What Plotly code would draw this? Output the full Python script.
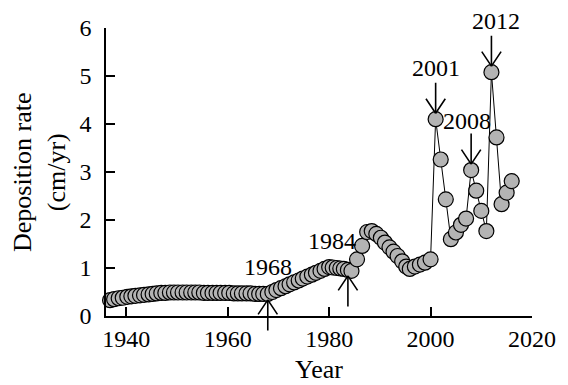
import plotly.graph_objects as go

# Dated sediment core: year of each layer and its deposition rate (cm/yr)
year = [
    1936.8, 1937.6, 1938.5, 1939.3, 1940.2, 1941.0, 1941.8, 1942.7, 1943.5, 1944.4,
    1945.2, 1946.0, 1946.9, 1947.7, 1948.6, 1949.4, 1950.2, 1951.1, 1951.9, 1952.8,
    1953.6, 1954.4, 1955.3, 1956.1, 1957.0, 1957.8, 1958.6, 1959.5, 1960.3, 1961.2,
    1962.0, 1962.8, 1963.7, 1964.5, 1965.4, 1966.2, 1967.0, 1967.9,
    1968.8, 1969.6, 1970.5, 1971.4, 1972.2, 1973.1, 1974.0, 1974.8, 1975.7, 1976.6,
    1977.4, 1978.3, 1979.1, 1980.0,
    1980.7, 1981.5, 1982.2, 1982.9, 1983.7, 1984.4,
    1985.5, 1986.5, 1987.5, 1988.4, 1989.3, 1990.2, 1991.0, 1991.9, 1992.7, 1993.5,
    1994.4, 1995.2, 1995.9, 1996.9, 1997.9, 1998.9, 2000.0,
    2001, 2002, 2003, 2004, 2005, 2006, 2007, 2008, 2009, 2010, 2011, 2012, 2013,
    2014, 2015, 2016,
]
rate = [
    0.33, 0.35, 0.37, 0.38, 0.40, 0.41, 0.42, 0.43, 0.44, 0.45,
    0.46, 0.47, 0.48, 0.48, 0.49, 0.49, 0.49, 0.49, 0.49, 0.49,
    0.49, 0.49, 0.48, 0.48, 0.48, 0.48, 0.48, 0.48, 0.48, 0.47,
    0.47, 0.47, 0.47, 0.47, 0.46, 0.46, 0.46, 0.46,
    0.50, 0.54, 0.58, 0.62, 0.66, 0.70, 0.74, 0.78, 0.82, 0.86,
    0.90, 0.94, 0.98, 1.02,
    1.01, 1.00, 0.99, 0.98, 0.96, 0.94,
    1.18, 1.46, 1.75, 1.77, 1.71, 1.63, 1.53, 1.43, 1.34, 1.25,
    1.14, 1.03, 0.98, 1.03, 1.07, 1.11, 1.18,
    4.10, 3.26, 2.43, 1.60, 1.74, 1.90, 2.03, 3.04, 2.61, 2.19, 1.77, 5.08, 3.72,
    2.33, 2.57, 2.81,
]

# Marked events and the side their arrow comes from
event_year = [1968, 1984, 2001, 2008, 2012]
event_label = ["1968", "1984", "2001", "2008", "2012"]
event_side = ["below", "below", "above", "above", "above"]

x_ticks = [1940, 1960, 1980, 2000, 2020]
y_ticks = [0, 1, 2, 3, 4, 5, 6]

FONT = "Liberation Serif, Times New Roman, serif"
BLACK = "#000000"

fig = go.Figure(
    go.Scatter(
        x=year,
        y=rate,
        mode="lines+markers",
        line=dict(color=BLACK, width=1),
        marker=dict(size=15, color="#b4b4b4", line=dict(color=BLACK, width=1.2)),
        cliponaxis=False,
        showlegend=False,
    )
)

# label offsets (pixels) for each event text relative to its point
label_shift = {
    "1968": (0, 27),
    "1984": (-16, 29),
    "2001": (0, 51),
    "2008": (-4, 49),
    "2012": (5, 51),
}

GAP = 6       # distance from point centre to arrow tip
STEM = 31     # stem length beyond the tip
BARB_X = 10
BARB_Y = 15

for yr, lab, side in zip(event_year, event_label, event_side):
    i = min(range(len(year)), key=lambda k: abs(year[k] - yr))
    px, py = year[i], rate[i]
    s = 1 if side == "above" else -1
    common = dict(
        x=px, y=py, xref="x", yref="y", text="", showarrow=True,
        arrowhead=0, arrowwidth=1.6, arrowcolor=BLACK, standoff=0,
        startstandoff=0, yshift=s * GAP, font=dict(size=1), borderpad=0,
    )
    # stem
    fig.add_annotation(ax=0, ay=-s * STEM, **common)
    # open arrow head
    fig.add_annotation(ax=-BARB_X, ay=-s * BARB_Y, **common)
    fig.add_annotation(ax=BARB_X, ay=-s * BARB_Y, **common)
    dx, dy = label_shift[lab]
    fig.add_annotation(
        x=px, y=py, xref="x", yref="y", text=lab, showarrow=False,
        xshift=dx, yshift=dy, font=dict(family=FONT, size=24, color=BLACK),
    )

# axis titles
fig.add_annotation(
    x=0, y=0.5, xref="paper", yref="paper", xshift=-67, textangle=-90,
    xanchor="center", yanchor="middle",
    text="Deposition rate<br>(cm/yr)", showarrow=False,
    font=dict(family=FONT, size=26, color=BLACK),
)
fig.add_annotation(
    x=0.5, y=0, xref="paper", yref="paper", yshift=-53,
    xanchor="center", yanchor="middle",
    text="Year", showarrow=False,
    font=dict(family=FONT, size=26, color=BLACK),
)

axis_common = dict(
    showline=True, linecolor=BLACK, linewidth=1.6, mirror=False,
    ticks="inside", ticklen=9, tickwidth=1.6, tickcolor=BLACK,
    showgrid=False, zeroline=False,
    tickfont=dict(family=FONT, size=24, color=BLACK),
)

fig.update_layout(
    width=568, height=385,
    margin=dict(l=106, r=29, t=28, b=69),
    paper_bgcolor="white", plot_bgcolor="white",
    font=dict(family=FONT, color=BLACK),
    xaxis=dict(range=[1936, 2020], tickvals=x_ticks, ticklabelstandoff=0, **axis_common),
    yaxis=dict(range=[0, 6], tickvals=y_ticks, ticklabelstandoff=8, **axis_common),
)

fig.write_html("out.html")
